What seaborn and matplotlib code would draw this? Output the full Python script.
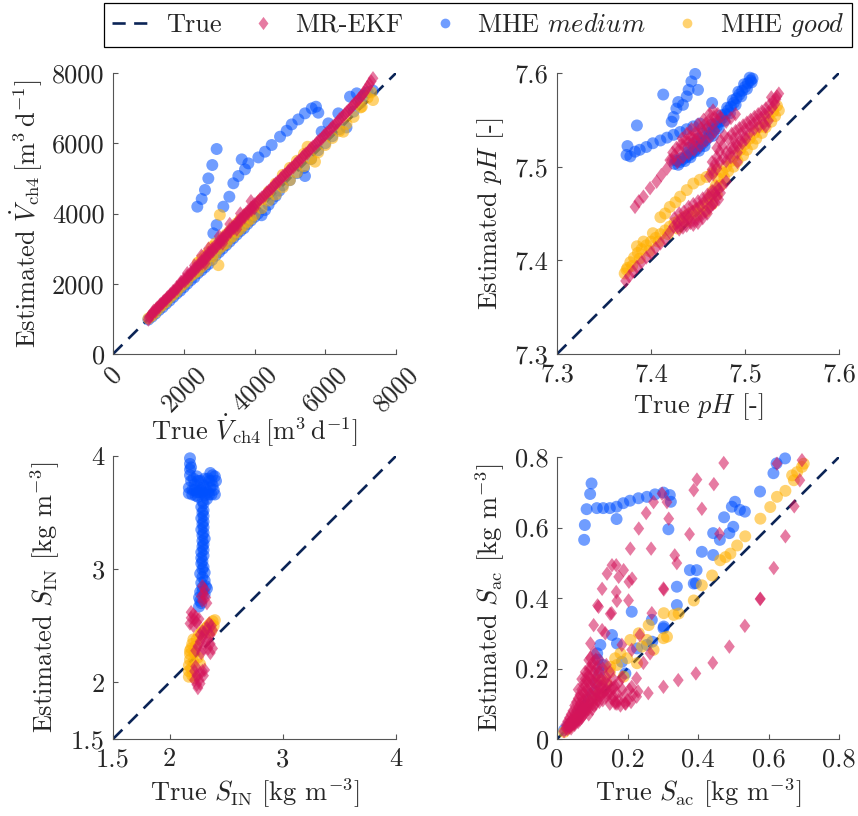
import matplotlib
matplotlib.use("Agg")
import matplotlib.pyplot as plt
import seaborn as sns
import pandas as pd
from matplotlib.path import Path
from matplotlib.lines import Line2D

# ------------------------------------------------------------------
# Estimated vs. true values, (true, estimated) pairs per estimator
# ------------------------------------------------------------------

# Methane flow rate [m3/d]
vch4_ekf = [(1000, 980), (1050, 1080), (1100, 1120), (1150, 1230), (1200, 1210), (1250, 1320),
            (1300, 1330), (1350, 1420), (1400, 1440), (1450, 1520), (1500, 1530), (1550, 1620),
            (1600, 1650), (1650, 1700), (1700, 1790), (1750, 1800), (1800, 1900), (1850, 1920),
            (1900, 1990), (1950, 2030), (2000, 2120), (2050, 2100), (2100, 2220), (2150, 2230),
            (2200, 2320), (2250, 2340), (2300, 2430), (2350, 2440), (2400, 2540), (2450, 2560),
            (2500, 2640), (2550, 2650), (2600, 2760), (2650, 2770), (2700, 2880), (2750, 2880),
            (2800, 2990), (2850, 2990), (2900, 3100), (2950, 3100), (3000, 3210), (3050, 3220),
            (3100, 3310), (3150, 3340), (3200, 3420), (3250, 3440), (3300, 3530), (3350, 3560),
            (3400, 3620), (3450, 3660), (3500, 3740), (3550, 3760), (3600, 3850), (3650, 3870),
            (3700, 3950), (3750, 3980), (3800, 4060), (3850, 4080), (3900, 4160), (3950, 4190),
            (4000, 4260), (4100, 4330), (4200, 4450), (4300, 4520), (4400, 4640), (4500, 4720),
            (4600, 4850), (4700, 4920), (4800, 5060), (4900, 5120), (5000, 5260), (5100, 5320),
            (5200, 5450), (5300, 5520), (5400, 5660), (5500, 5720), (5600, 5860), (5700, 5930),
            (5800, 6050), (5900, 6130), (6000, 6250), (6100, 6330), (6200, 6460), (6300, 6540),
            (6400, 6680), (6500, 6760), (6600, 6880), (6700, 6970), (6800, 7100), (6900, 7190),
            (7000, 7320), (7100, 7440), (7200, 7600), (7300, 7760), (7350, 7850),
            (2500, 2800), (2700, 3000), (3000, 3350), (3300, 3700), (3600, 4000), (3900, 4350),
            (2600, 2580), (3100, 3150), (3500, 3550), (4000, 4150), (2300, 2520), (2100, 2300),
            (1020, 1050), (1120, 1180), (1220, 1280), (1320, 1390), (1420, 1490), (1520, 1590),
            (1620, 1700), (1720, 1770), (1820, 1860), (1920, 2050), (2020, 2070), (2120, 2170),
            (2220, 2280), (2320, 2380), (2420, 2490), (2520, 2580), (2620, 2700), (2720, 2820),
            (2820, 2920), (2920, 3040), (3020, 3150), (3120, 3250), (3220, 3360), (3320, 3480),
            (3420, 3580), (3520, 3680), (3620, 3790), (3720, 3900), (3820, 4000), (3920, 4100),
            (4050, 4290), (4150, 4400), (4250, 4480), (4350, 4600), (4450, 4690), (4550, 4800),
            (4650, 4900), (4750, 5000), (4850, 5100), (4950, 5200), (5050, 5300), (5150, 5400),
            (5250, 5500), (5350, 5600), (5450, 5700), (5550, 5800), (5650, 5900), (5750, 6000),
            (5850, 6100), (5950, 6200), (6050, 6300), (6150, 6400), (6250, 6500), (6350, 6600),
            (6450, 6720), (6550, 6820), (6650, 6930), (6750, 7040), (6850, 7150), (6950, 7260),
            (7050, 7380), (7150, 7520), (7250, 7680)]

vch4_mhe_medium = [(1000, 980), (1100, 1060), (1200, 1150), (1300, 1250), (1400, 1330), (1500, 1430),
                   (1600, 1520), (1700, 1620), (1800, 1720), (1900, 1800), (2000, 1900), (2100, 2000),
                   (2200, 2100), (2300, 2180), (2400, 2300), (2500, 2380), (2600, 2470), (2700, 2560),
                   (2800, 2680), (2900, 2800), (3000, 2900), (3100, 3000), (3200, 3100), (3300, 3200),
                   (3400, 3300), (3500, 3400), (3600, 3500), (3700, 3580), (3800, 3700), (3900, 3800),
                   (4000, 3900), (4100, 4000), (4200, 3950), (4300, 4100), (4400, 4250), (4500, 4400),
                   (4600, 4500), (4700, 4650), (4800, 4800), (5000, 4950), (5200, 5150), (5400, 5300),
                   (5427, 5067), (5600, 5550), (5800, 5800), (6000, 6000), (6200, 6200), (6400, 6400),
                   (6600, 6450), (6800, 6900), (7000, 7150), (7100, 7350), (7200, 7450), (7350, 7500),
                   (5898, 6329), (6087, 6566), (6370, 6851), (6700, 7326), (6889, 7421),
                   (2383, 4194), (2507, 4413), (2600, 4670), (2695, 5000), (2807, 5380), (2930, 5836),
                   (2836, 3436), (2930, 3673), (3119, 4194), (3289, 4478), (3402, 4860), (3543, 5067),
                   (3731, 5257), (3638, 5541), (3826, 5427), (4109, 5597), (4297, 5759), (4486, 5950),
                   (4722, 6187), (4910, 6357), (5051, 6536), (5239, 6679), (5427, 6851), (5617, 6993),
                   (5738, 7040), (5804, 6870)]

vch4_mhe_good = [(1000, 1010), (1100, 1090), (1200, 1180), (1300, 1300), (1400, 1390), (1500, 1480),
                 (1600, 1600), (1700, 1690), (1800, 1780), (1900, 1900), (2000, 1990), (2100, 2080),
                 (2200, 2220), (2300, 2290), (2400, 2360), (2400, 2600), (2500, 2480), (2500, 2700),
                 (2600, 2560), (2600, 2800), (2700, 2660), (2700, 2900), (2800, 2780), (2800, 3050),
                 (2900, 2860), (2900, 3150), (2980, 2530), (3020, 3960), (3000, 3000), (3100, 3080),
                 (3100, 3300), (3200, 3150), (3200, 3400), (3300, 3280), (3300, 3500), (3400, 3360),
                 (3400, 3620), (3500, 3470), (3500, 3720), (3600, 3560), (3600, 3830), (3700, 3660),
                 (3800, 3760), (3800, 4000), (3900, 3850), (4000, 3960), (4000, 4200), (4200, 4150),
                 (4200, 4400), (4400, 4370), (4400, 4620), (4600, 4540), (4600, 4850), (4800, 4750),
                 (4800, 5100), (5000, 4950), (5000, 5300), (5200, 5170), (5200, 5500), (5400, 5350),
                 (5400, 5700), (5500, 5900), (5600, 5560), (5710, 5475), (5800, 5740), (6000, 5950),
                 (6200, 6150), (6400, 6350), (6510, 6328), (6600, 6550), (6800, 6750), (7000, 7020),
                 (7031, 7040), (7200, 7300), (7350, 7230), (7300, 7450)]

# pH [-]
ph_ekf = [(7.373, 7.378), (7.377, 7.383), (7.381, 7.388), (7.385, 7.393), (7.390, 7.398),
          (7.395, 7.403), (7.400, 7.408), (7.405, 7.413), (7.410, 7.418), (7.415, 7.423),
          (7.420, 7.430), (7.424, 7.436), (7.428, 7.440), (7.432, 7.444), (7.436, 7.447),
          (7.440, 7.450), (7.444, 7.452), (7.448, 7.455), (7.452, 7.458), (7.456, 7.462),
          (7.460, 7.466), (7.464, 7.470), (7.468, 7.472), (7.470, 7.468), (7.466, 7.460),
          (7.462, 7.456), (7.458, 7.452), (7.454, 7.448), (7.450, 7.445), (7.446, 7.442),
          (7.442, 7.440), (7.438, 7.437), (7.434, 7.435), (7.430, 7.433), (7.472, 7.476),
          (7.462, 7.490), (7.465, 7.497), (7.468, 7.503), (7.470, 7.510), (7.473, 7.516),
          (7.476, 7.522), (7.474, 7.528), (7.478, 7.533), (7.482, 7.530), (7.486, 7.535),
          (7.490, 7.538), (7.494, 7.541), (7.498, 7.544), (7.502, 7.547), (7.506, 7.550),
          (7.510, 7.553), (7.514, 7.556), (7.518, 7.559), (7.522, 7.562), (7.526, 7.566),
          (7.530, 7.570), (7.534, 7.575), (7.536, 7.578), (7.480, 7.515), (7.485, 7.520),
          (7.490, 7.525), (7.495, 7.528), (7.500, 7.532), (7.505, 7.536), (7.510, 7.540),
          (7.515, 7.543), (7.520, 7.546), (7.525, 7.549), (7.465, 7.505), (7.470, 7.520),
          (7.485, 7.510), (7.492, 7.515), (7.480, 7.484), (7.492, 7.505), (7.522, 7.543),
          (7.383, 7.457), (7.387, 7.463), (7.392, 7.468), (7.399, 7.477), (7.406, 7.484),
          (7.411, 7.491), (7.417, 7.498), (7.422, 7.507),
          (7.420, 7.507), (7.425, 7.512), (7.430, 7.518), (7.435, 7.522), (7.440, 7.526),
          (7.445, 7.530), (7.450, 7.534), (7.455, 7.538), (7.460, 7.542), (7.465, 7.546),
          (7.470, 7.550), (7.474, 7.553), (7.428, 7.505), (7.434, 7.510), (7.440, 7.514),
          (7.446, 7.518), (7.452, 7.522), (7.458, 7.528), (7.463, 7.532), (7.468, 7.538),
          (7.443, 7.540), (7.450, 7.545), (7.456, 7.550), (7.462, 7.556), (7.466, 7.560),
          (7.438, 7.535), (7.433, 7.530), (7.480, 7.548), (7.485, 7.552), (7.490, 7.556),
          (7.425, 7.445), (7.430, 7.450), (7.435, 7.452), (7.440, 7.457), (7.445, 7.460),
          (7.450, 7.463), (7.455, 7.466), (7.460, 7.470), (7.465, 7.474), (7.470, 7.478),
          (7.474, 7.472), (7.472, 7.465), (7.468, 7.462), (7.464, 7.458), (7.460, 7.450),
          (7.455, 7.445), (7.450, 7.440), (7.445, 7.438), (7.440, 7.445), (7.435, 7.441),
          (7.428, 7.436), (7.476, 7.480),
          (7.466, 7.492), (7.470, 7.498), (7.473, 7.505), (7.477, 7.509), (7.480, 7.506),
          (7.484, 7.514), (7.488, 7.520), (7.492, 7.522), (7.497, 7.525), (7.501, 7.529),
          (7.505, 7.543), (7.509, 7.546), (7.513, 7.550), (7.517, 7.552), (7.521, 7.556),
          (7.525, 7.558), (7.529, 7.563), (7.532, 7.567), (7.533, 7.572), (7.528, 7.574),
          (7.500, 7.540), (7.495, 7.535), (7.488, 7.530),
          (7.423, 7.515), (7.427, 7.520), (7.432, 7.524), (7.437, 7.528), (7.442, 7.532),
          (7.447, 7.536), (7.453, 7.541), (7.458, 7.546), (7.462, 7.550), (7.467, 7.553),
          (7.471, 7.556), (7.448, 7.528), (7.453, 7.530), (7.444, 7.524)]

ph_mhe_medium = [(7.374, 7.5125), (7.378, 7.511), (7.383, 7.516), (7.388, 7.518), (7.395, 7.521),
                 (7.402, 7.525), (7.410, 7.528), (7.417, 7.531), (7.424, 7.534), (7.431, 7.537),
                 (7.438, 7.540), (7.445, 7.543), (7.452, 7.546), (7.375, 7.522), (7.385, 7.544),
                 (7.413, 7.577), (7.422, 7.548), (7.424, 7.553), (7.427, 7.562), (7.429, 7.569),
                 (7.434, 7.566), (7.438, 7.575), (7.440, 7.582), (7.443, 7.591), (7.447, 7.599),
                 (7.450, 7.582), (7.465, 7.568),
                 (7.425, 7.503), (7.428, 7.506), (7.431, 7.505), (7.434, 7.508), (7.437, 7.510),
                 (7.440, 7.512), (7.443, 7.514), (7.446, 7.516), (7.449, 7.519), (7.452, 7.522),
                 (7.455, 7.525), (7.458, 7.528), (7.461, 7.531), (7.464, 7.535), (7.467, 7.539),
                 (7.470, 7.543), (7.473, 7.548), (7.476, 7.552), (7.479, 7.556), (7.482, 7.560),
                 (7.485, 7.564), (7.488, 7.568), (7.491, 7.573), (7.494, 7.577), (7.497, 7.581),
                 (7.500, 7.585), (7.503, 7.589), (7.506, 7.592), (7.508, 7.594), (7.445, 7.525),
                 (7.450, 7.530), (7.455, 7.535), (7.460, 7.540), (7.440, 7.520), (7.465, 7.545),
                 (7.426, 7.507), (7.429, 7.502), (7.432, 7.509), (7.436, 7.506), (7.439, 7.515),
                 (7.442, 7.510), (7.447, 7.521), (7.451, 7.517), (7.454, 7.527), (7.457, 7.522),
                 (7.462, 7.536), (7.466, 7.533), (7.469, 7.546), (7.472, 7.541), (7.475, 7.555),
                 (7.478, 7.549), (7.481, 7.563), (7.484, 7.557), (7.487, 7.571), (7.490, 7.566),
                 (7.493, 7.580), (7.496, 7.575), (7.499, 7.588), (7.502, 7.583), (7.505, 7.595),
                 (7.507, 7.590)]

ph_mhe_good = [(7.372, 7.386), (7.375, 7.392), (7.378, 7.398), (7.382, 7.403), (7.386, 7.408),
               (7.390, 7.412), (7.395, 7.416), (7.400, 7.420), (7.405, 7.424), (7.410, 7.428),
               (7.415, 7.432), (7.420, 7.436), (7.425, 7.440), (7.430, 7.443), (7.435, 7.446),
               (7.440, 7.449), (7.445, 7.452), (7.450, 7.455), (7.455, 7.458), (7.460, 7.462),
               (7.463, 7.468), (7.466, 7.474), (7.469, 7.480), (7.472, 7.487), (7.476, 7.494),
               (7.480, 7.500), (7.485, 7.506), (7.490, 7.512), (7.495, 7.518), (7.500, 7.524),
               (7.505, 7.530), (7.510, 7.536), (7.515, 7.542), (7.520, 7.548), (7.525, 7.553),
               (7.530, 7.559), (7.534, 7.565),
               (7.385, 7.415), (7.392, 7.420), (7.402, 7.429), (7.410, 7.446), (7.415, 7.450),
               (7.420, 7.457), (7.426, 7.462), (7.431, 7.468), (7.438, 7.475), (7.445, 7.482),
               (7.452, 7.486), (7.459, 7.489), (7.465, 7.493), (7.470, 7.497), (7.374, 7.390),
               (7.380, 7.394), (7.388, 7.402), (7.398, 7.410), (7.408, 7.420), (7.418, 7.428),
               (7.428, 7.434), (7.438, 7.442), (7.448, 7.448), (7.458, 7.452), (7.465, 7.460),
               (7.470, 7.470), (7.474, 7.480), (7.478, 7.488), (7.482, 7.495), (7.488, 7.500),
               (7.492, 7.506), (7.498, 7.512), (7.502, 7.518), (7.508, 7.524), (7.512, 7.530),
               (7.518, 7.536), (7.522, 7.542), (7.528, 7.548), (7.532, 7.554), (7.536, 7.560)]

# Inorganic nitrogen S_IN [kg/m3]
sin_ekf = [(2.29, 2.85), (2.31, 2.82), (2.30, 2.78), (2.32, 2.75), (2.29, 2.72), (2.33, 2.70),
           (2.28, 2.76), (2.19, 2.62), (2.21, 2.60), (2.19, 2.57), (2.22, 2.55), (2.18, 2.52),
           (2.21, 2.50), (2.24, 2.53), (2.23, 2.58), (2.26, 2.56), (2.23, 2.28), (2.25, 2.32),
           (2.27, 2.36), (2.29, 2.40), (2.31, 2.44), (2.33, 2.48), (2.35, 2.52), (2.37, 2.50),
           (2.38, 2.46), (2.36, 2.42), (2.34, 2.38), (2.32, 2.35), (2.30, 2.30), (2.28, 2.26),
           (2.36, 2.34), (2.38, 2.30), (2.36, 2.26), (2.34, 2.30), (2.27, 2.42), (2.29, 2.45),
           (2.22, 2.10), (2.24, 2.06), (2.26, 2.02), (2.24, 1.98), (2.22, 2.02), (2.27, 2.08),
           (2.29, 2.10), (2.30, 2.06), (2.25, 1.95), (2.27, 1.99), (2.23, 2.14), (2.31, 2.11)]

sin_mhe_medium = [(2.18, 3.98), (2.18, 3.93), (2.18, 3.88), (2.18, 3.83), (2.19, 3.78), (2.17, 3.72),
                  (2.17, 3.67), (2.20, 3.70), (2.22, 3.75), (2.24, 3.82), (2.25, 3.78), (2.27, 3.72),
                  (2.29, 3.68), (2.31, 3.65), (2.33, 3.62), (2.35, 3.66), (2.36, 3.72), (2.37, 3.78),
                  (2.38, 3.83), (2.40, 3.82), (2.41, 3.78), (2.36, 3.85), (2.34, 3.80), (2.30, 3.74),
                  (2.26, 3.68), (2.23, 3.65), (2.39, 3.70), (2.40, 3.66),
                  (2.29, 3.60), (2.28, 3.55), (2.29, 3.50), (2.28, 3.45), (2.29, 3.40), (2.28, 3.35),
                  (2.29, 3.30), (2.29, 3.25), (2.29, 3.20), (2.28, 3.15), (2.28, 3.10), (2.28, 3.05),
                  (2.29, 3.00), (2.31, 2.97), (2.29, 2.93), (2.28, 2.88), (2.29, 2.84), (2.32, 2.85),
                  (2.33, 2.83), (2.27, 2.80), (2.26, 2.75), (2.31, 2.78), (2.27, 2.72),
                  (2.30, 3.58), (2.30, 3.52), (2.30, 3.47), (2.30, 3.42), (2.30, 3.37), (2.30, 3.32),
                  (2.31, 3.27), (2.30, 3.22), (2.30, 3.17), (2.30, 3.12), (2.29, 3.07), (2.30, 3.02),
                  (2.27, 2.96), (2.31, 2.90), (2.29, 2.80), (2.28, 2.70), (2.26, 2.67),
                  (2.19, 3.90), (2.21, 3.80), (2.22, 3.70), (2.24, 3.68), (2.28, 3.70), (2.32, 3.70),
                  (2.34, 3.68), (2.37, 3.66), (2.38, 3.74), (2.35, 3.78), (2.31, 3.80), (2.27, 3.78),
                  (2.20, 3.66), (2.25, 3.64)]

sin_mhe_good = [(2.17, 2.10), (2.17, 2.15), (2.18, 2.20), (2.18, 2.25), (2.19, 2.30), (2.20, 2.34),
                (2.21, 2.38), (2.19, 2.12), (2.20, 2.06), (2.22, 2.04), (2.21, 2.18), (2.22, 2.26),
                (2.23, 2.32), (2.24, 2.38), (2.26, 2.42), (2.28, 2.44), (2.30, 2.46), (2.32, 2.48),
                (2.34, 2.50), (2.36, 2.52), (2.38, 2.54), (2.40, 2.55), (2.39, 2.50), (2.37, 2.46),
                (2.35, 2.44), (2.17, 2.05), (2.18, 2.28), (2.25, 2.22), (2.27, 2.16)]

# Acetate S_ac [kg/m3]
sac_ekf = [(0.020, 0.022), (0.025, 0.030), (0.030, 0.028), (0.030, 0.040), (0.035, 0.045),
           (0.035, 0.032), (0.040, 0.050), (0.040, 0.038), (0.045, 0.060), (0.045, 0.042),
           (0.050, 0.070), (0.050, 0.052), (0.050, 0.040), (0.055, 0.080), (0.055, 0.060),
           (0.060, 0.090), (0.060, 0.065), (0.060, 0.048), (0.065, 0.100), (0.065, 0.075),
           (0.065, 0.055), (0.070, 0.115), (0.070, 0.085), (0.070, 0.060), (0.075, 0.130),
           (0.075, 0.095), (0.075, 0.068), (0.080, 0.150), (0.080, 0.110), (0.080, 0.075),
           (0.085, 0.165), (0.085, 0.120), (0.085, 0.085), (0.090, 0.180), (0.090, 0.135),
           (0.090, 0.095), (0.090, 0.070), (0.095, 0.200), (0.095, 0.150), (0.095, 0.105),
           (0.100, 0.215), (0.100, 0.165), (0.100, 0.120), (0.100, 0.085), (0.105, 0.190),
           (0.105, 0.140), (0.105, 0.095), (0.110, 0.225), (0.110, 0.175), (0.110, 0.130),
           (0.110, 0.100), (0.115, 0.205), (0.115, 0.155), (0.115, 0.110), (0.120, 0.190),
           (0.120, 0.145), (0.120, 0.105), (0.125, 0.170), (0.125, 0.125), (0.130, 0.200),
           (0.130, 0.150), (0.130, 0.110), (0.135, 0.135), (0.140, 0.175), (0.140, 0.120),
           (0.145, 0.155), (0.150, 0.130), (0.150, 0.100), (0.155, 0.145), (0.160, 0.120),
           (0.165, 0.105), (0.170, 0.130), (0.175, 0.110), (0.180, 0.095), (0.190, 0.120),
           (0.200, 0.110), (0.205, 0.140), (0.215, 0.125), (0.230, 0.135), (0.140, 0.210),
           (0.150, 0.190), (0.160, 0.170), (0.175, 0.160), (0.185, 0.175), (0.060, 0.140),
           (0.070, 0.170), (0.080, 0.190), (0.095, 0.230), (0.105, 0.245), (0.120, 0.225),
           (0.025, 0.040), (0.030, 0.050), (0.035, 0.060), (0.040, 0.070), (0.045, 0.080),
           (0.050, 0.095), (0.055, 0.105), (0.060, 0.115), (0.065, 0.125), (0.070, 0.140),
           (0.075, 0.155), (0.080, 0.170), (0.085, 0.185), (0.090, 0.200), (0.040, 0.030),
           (0.050, 0.045), (0.060, 0.055), (0.070, 0.070), (0.080, 0.085), (0.090, 0.085),
           (0.100, 0.100), (0.110, 0.115), (0.120, 0.125), (0.130, 0.130), (0.140, 0.140),
           (0.055, 0.050), (0.065, 0.085), (0.075, 0.110), (0.085, 0.140), (0.095, 0.170),
           (0.105, 0.205), (0.115, 0.180), (0.125, 0.150), (0.135, 0.165), (0.145, 0.130),
           (0.155, 0.115), (0.160, 0.145), (0.165, 0.150), (0.170, 0.100), (0.185, 0.140),
           (0.195, 0.100), (0.210, 0.105), (0.115, 0.130), (0.105, 0.160), (0.095, 0.125),
           (0.085, 0.100), (0.075, 0.080), (0.065, 0.065), (0.045, 0.050), (0.035, 0.038),
           (0.473, 0.783), (0.397, 0.736), (0.445, 0.723), (0.388, 0.706), (0.411, 0.653),
           (0.624, 0.781), (0.695, 0.791), (0.689, 0.734), (0.673, 0.660), (0.648, 0.575),
           (0.615, 0.485), (0.577, 0.398), (0.461, 0.582), (0.376, 0.581), (0.317, 0.625),
           (0.312, 0.672), (0.298, 0.696), (0.274, 0.672), (0.253, 0.641), (0.232, 0.597),
           (0.208, 0.540), (0.267, 0.540), (0.334, 0.521), (0.340, 0.499), (0.156, 0.493),
           (0.168, 0.493), (0.142, 0.469), (0.175, 0.460), (0.189, 0.479), (0.213, 0.455),
           (0.128, 0.426), (0.168, 0.417), (0.203, 0.393), (0.170, 0.392), (0.115, 0.379),
           (0.303, 0.424), (0.155, 0.357), (0.302, 0.427), (0.269, 0.357), (0.235, 0.295),
           (0.212, 0.253), (0.184, 0.267), (0.204, 0.446),
           (0.226, 0.120), (0.259, 0.130), (0.302, 0.148), (0.344, 0.167), (0.394, 0.186),
           (0.442, 0.216), (0.489, 0.262), (0.533, 0.321), (0.576, 0.397), (0.193, 0.101),
           (0.212, 0.148), (0.245, 0.216), (0.264, 0.243), (0.226, 0.172), (0.104, 0.323),
           (0.118, 0.375), (0.151, 0.355), (0.128, 0.309), (0.095, 0.271), (0.137, 0.300),
           (0.090, 0.224), (0.165, 0.101)]

sac_mhe_medium = [(0.077, 0.565), (0.079, 0.607), (0.084, 0.652), (0.094, 0.695), (0.098, 0.725),
                  (0.113, 0.655), (0.131, 0.655), (0.150, 0.655), (0.169, 0.659), (0.188, 0.669),
                  (0.207, 0.676), (0.231, 0.683), (0.255, 0.687), (0.278, 0.694), (0.302, 0.699),
                  (0.320, 0.692), (0.323, 0.673), (0.169, 0.624), (0.316, 0.595), (0.212, 0.361),
                  (0.340, 0.380), (0.340, 0.432), (0.377, 0.479), (0.396, 0.479), (0.394, 0.442),
                  (0.388, 0.441), (0.411, 0.531), (0.443, 0.522), (0.443, 0.584), (0.462, 0.565),
                  (0.474, 0.629), (0.489, 0.584), (0.496, 0.659), (0.505, 0.673), (0.519, 0.650),
                  (0.533, 0.645), (0.500, 0.602), (0.576, 0.702), (0.614, 0.754), (0.623, 0.782),
                  (0.647, 0.796), (0.302, 0.314), (0.269, 0.338), (0.303, 0.319), (0.156, 0.295),
                  (0.123, 0.267), (0.114, 0.243), (0.170, 0.271), (0.227, 0.257), (0.255, 0.267),
                  (0.270, 0.276), (0.194, 0.186), (0.184, 0.219),
                  (0.020, 0.025), (0.030, 0.035), (0.040, 0.045), (0.050, 0.055), (0.060, 0.070),
                  (0.070, 0.080), (0.080, 0.095), (0.090, 0.110), (0.100, 0.130), (0.110, 0.160),
                  (0.120, 0.190), (0.130, 0.210), (0.115, 0.225)]

sac_mhe_good = [(0.388, 0.393), (0.411, 0.436), (0.440, 0.464), (0.463, 0.507), (0.478, 0.516),
                (0.492, 0.526), (0.511, 0.549), (0.534, 0.575), (0.577, 0.625), (0.605, 0.658),
                (0.624, 0.687), (0.648, 0.704), (0.667, 0.748), (0.695, 0.772), (0.672, 0.734),
                (0.681, 0.757), (0.700, 0.781), (0.345, 0.356), (0.331, 0.352), (0.303, 0.357),
                (0.260, 0.323), (0.232, 0.300), (0.208, 0.281), (0.255, 0.281), (0.180, 0.243),
                (0.165, 0.229), (0.199, 0.229), (0.189, 0.177), (0.151, 0.205), (0.227, 0.215),
                (0.241, 0.262), (0.274, 0.253), (0.312, 0.290), (0.123, 0.167), (0.302, 0.286),
                (0.020, 0.020), (0.030, 0.030), (0.040, 0.040), (0.050, 0.055), (0.060, 0.065),
                (0.080, 0.085), (0.100, 0.110), (0.120, 0.130), (0.140, 0.160), (0.150, 0.190),
                (0.170, 0.210)]

# Axis ticks and labels per panel
vch4_ticks = [0, 2000, 4000, 6000, 8000]
vch4_ticklabels = ["0", "2000", "4000", "6000", "8000"]
ph_ticks = [7.3, 7.4, 7.5, 7.6]
ph_ticklabels = ["7.3", "7.4", "7.5", "7.6"]
sin_ticks = [1.5, 2, 3, 4]
sin_ticklabels = ["1.5", "2", "3", "4"]
sac_ticks = [0, 0.2, 0.4, 0.6, 0.8]
sac_ticklabels = ["0", "0.2", "0.4", "0.6", "0.8"]

series_names = ["MR-EKF", r"MHE $\mathit{medium}$", r"MHE $\mathit{good}$"]

# ------------------------------------------------------------------
sns.set_style("ticks")
plt.rcParams.update({
    "font.family": ["cmr10", "DejaVu Serif"],
    "mathtext.fontset": "cm",
    "axes.formatter.use_mathtext": True,
    "axes.unicode_minus": False,
    "font.size": 19,
    "axes.edgecolor": "#555555",
    "axes.linewidth": 0.8,
    "xtick.color": "#555555",
    "ytick.color": "#555555",
    "xtick.labelcolor": "#262626",
    "ytick.labelcolor": "#262626",
    "xtick.direction": "in",
    "ytick.direction": "in",
    "xtick.major.size": 3.5,
    "ytick.major.size": 3.5,
    "xtick.major.width": 0.8,
    "ytick.major.width": 0.8,
})

C_EKF = "#D4145A"
C_MED = "#0050FF"
C_GOOD = "#FFB000"
C_TRUE = "#0B2456"
ALPHA = 0.56

diamond = Path([(0, 1), (0.75, 0), (0, -1), (-0.75, 0), (0, 1)],
               [Path.MOVETO, Path.LINETO, Path.LINETO, Path.LINETO, Path.CLOSEPOLY])

fig = plt.figure(figsize=(8.58, 8.16), dpi=100)
W, H = 858, 816


def add_ax(x0, y0, x1, y1):
    return fig.add_axes([x0 / W, 1 - y1 / H, (x1 - x0) / W, (y1 - y0) / H])


panels = [
    dict(box=(113, 73, 396, 354), ekf=vch4_ekf, med=vch4_mhe_medium, good=vch4_mhe_good,
         ticks=vch4_ticks, labels=vch4_ticklabels,
         xlabel=r"True $\dot{V}_{\mathrm{ch4}}\,[\mathrm{m}^3\,\mathrm{d}^{-1}]$",
         ylabel=r"Estimated $\dot{V}_{\mathrm{ch4}}\,[\mathrm{m}^3\,\mathrm{d}^{-1}]$",
         rot=True, xpad=-3),
    dict(box=(557, 73, 839, 354), ekf=ph_ekf, med=ph_mhe_medium, good=ph_mhe_good,
         ticks=ph_ticks, labels=ph_ticklabels,
         xlabel=r"True $pH$ [-]", ylabel=r"Estimated $pH$ [-]", rot=False, xpad=4),
    dict(box=(113, 456, 396, 739), ekf=sin_ekf, med=sin_mhe_medium, good=sin_mhe_good,
         ticks=sin_ticks, labels=sin_ticklabels,
         xlabel=r"True $S_{\mathrm{IN}}$ [kg m$^{-3}$]",
         ylabel=r"Estimated $S_{\mathrm{IN}}$ [kg m$^{-3}$]", rot=False, xpad=4),
    dict(box=(557, 457, 839, 739), ekf=sac_ekf, med=sac_mhe_medium, good=sac_mhe_good,
         ticks=sac_ticks, labels=sac_ticklabels,
         xlabel=r"True $S_{\mathrm{ac}}$ [kg m$^{-3}$]",
         ylabel=r"Estimated $S_{\mathrm{ac}}$ [kg m$^{-3}$]", rot=False, xpad=4),
]

for p in panels:
    ax = add_ax(*p["box"])
    lo, hi = p["ticks"][0], p["ticks"][-1]
    sns.lineplot(x=[lo, hi], y=[lo, hi], ax=ax, color=C_TRUE, lw=1.9, zorder=1)
    ax.lines[-1].set_dashes((5.0, 3.2))
    for data, col, mk, s in [(p["med"], C_MED, "o", 74), (p["good"], C_GOOD, "o", 74),
                             (p["ekf"], C_EKF, diamond, 108)]:
        df = pd.DataFrame(data, columns=["true", "est"])
        sns.scatterplot(data=df, x="true", y="est", ax=ax, color=col, marker=mk, s=s,
                        alpha=ALPHA, linewidth=0, edgecolor="none", zorder=2,
                        clip_on=False)
    ax.set_xlim(lo, hi)
    ax.set_ylim(lo, hi)
    ax.set_xticks(p["ticks"])
    ax.set_yticks(p["ticks"])
    ax.set_yticklabels(p["labels"])
    if p["rot"]:
        ax.set_xticklabels(p["labels"], rotation=45, ha="center", va="top")
    else:
        ax.set_xticklabels(p["labels"])
    ax.tick_params(axis="both", pad=6)
    ax.set_xlabel(p["xlabel"], labelpad=p["xpad"])
    ax.set_ylabel(p["ylabel"], labelpad=6)
    sns.despine(ax=ax)

handles = [
    Line2D([], [], color=C_TRUE, lw=1.9, dashes=(5.0, 3.2)),
    Line2D([], [], color=C_EKF, marker=diamond, linestyle="none", markersize=9.5,
           alpha=ALPHA, markeredgewidth=0),
    Line2D([], [], color=C_MED, marker="o", linestyle="none", markersize=7,
           alpha=ALPHA, markeredgewidth=0),
    Line2D([], [], color=C_GOOD, marker="o", linestyle="none", markersize=7,
           alpha=ALPHA, markeredgewidth=0),
]
leg = fig.legend(handles, ["True"] + series_names, loc="upper center",
                 bbox_to_anchor=(478 / W, 1 - 3 / H), ncol=4, frameon=True,
                 fancybox=False, edgecolor="black", framealpha=1,
                 handlelength=1.65, handletextpad=0.4, columnspacing=0.75,
                 borderpad=0.3, borderaxespad=0.0, fontsize=19)
leg.get_frame().set_linewidth(0.9)

fig.savefig("out.png", dpi=100)
